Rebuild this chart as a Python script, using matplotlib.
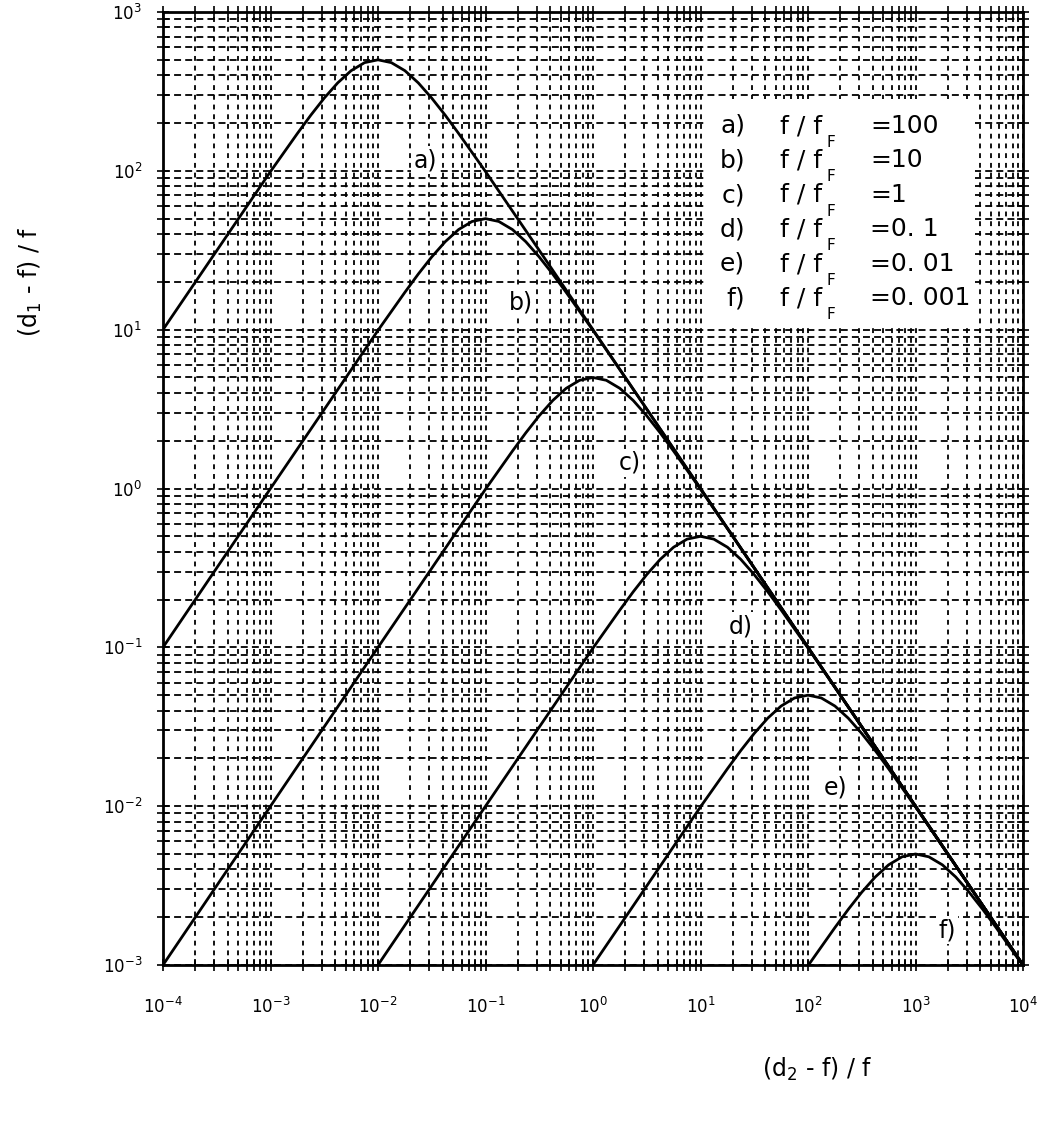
import matplotlib
matplotlib.use("Agg")
import matplotlib.pyplot as plt
from matplotlib.patches import Rectangle
from matplotlib.ticker import FixedLocator, LogFormatterSciNotation, NullFormatter

OUT_PATH = "out.png"
FIG_W, FIG_H = 1054, 1123

CURVE_NAMES = ["a)", "b)", "c)", "d)", "e)", "f)"]
RATIO_LABELS = ["=100", "=10", "=1", "=0. 1", "=0. 01", "=0. 001"]

X_DECADES = [1e-4, 1e-3, 1e-2, 1e-1, 1e0, 1e1, 1e2, 1e3, 1e4]
Y_DECADES = [1e-3, 1e-2, 1e-1, 1e0, 1e1, 1e2, 1e3]

# values, (d2-f)/f -> (d1-f)/f
A_X = [1e-4, 1e-3, 1.78e-3, 2.37e-3, 3.16e-3, 4.22e-3, 5.62e-3, 7.50e-3, 1e-2,
       1.33e-2, 1.78e-2, 2.37e-2, 3.16e-2, 4.22e-2, 5.62e-2, 0.1, 0.316, 1, 10, 100, 1000, 1e4]
A_Y = [10, 99, 172, 224, 287, 358, 427, 480, 500,
       480, 427, 358, 287, 224, 172, 99, 31.6, 10, 1.0, 0.1, 0.01, 0.001]

B_X = [1e-4, 1e-3, 1e-2, 1.78e-2, 2.37e-2, 3.16e-2, 4.22e-2, 5.62e-2, 7.50e-2, 0.1,
       0.133, 0.178, 0.237, 0.316, 0.422, 0.562, 1, 3.16, 10, 100, 1000, 1e4]
B_Y = [0.1, 1.0, 9.9, 17.2, 22.4, 28.7, 35.8, 42.7, 48.0, 50,
       48.0, 42.7, 35.8, 28.7, 22.4, 17.2, 9.9, 3.16, 1.0, 0.1, 0.01, 0.001]

C_X = [1e-4, 1e-3, 1e-2, 0.1, 0.178, 0.237, 0.316, 0.422, 0.562, 0.750, 1,
       1.33, 1.78, 2.37, 3.16, 4.22, 5.62, 10, 31.6, 100, 1000, 1e4]
C_Y = [0.001, 0.01, 0.1, 0.99, 1.72, 2.24, 2.87, 3.58, 4.27, 4.80, 5.0,
       4.80, 4.27, 3.58, 2.87, 2.24, 1.72, 0.99, 0.316, 0.1, 0.01, 0.001]

D_X = [1e-2, 0.1, 1, 1.78, 2.37, 3.16, 4.22, 5.62, 7.50, 10,
       13.3, 17.8, 23.7, 31.6, 42.2, 56.2, 100, 316, 1000, 1e4]
D_Y = [0.001, 0.01, 0.099, 0.172, 0.224, 0.287, 0.358, 0.427, 0.480, 0.5,
       0.480, 0.427, 0.358, 0.287, 0.224, 0.172, 0.099, 0.0316, 0.01, 0.001]

E_X = [1, 10, 17.8, 23.7, 31.6, 42.2, 56.2, 75.0, 100,
       133, 178, 237, 316, 422, 562, 1000, 3160, 1e4]
E_Y = [0.001, 0.0099, 0.0172, 0.0224, 0.0287, 0.0358, 0.0427, 0.0480, 0.05,
       0.0480, 0.0427, 0.0358, 0.0287, 0.0224, 0.0172, 0.0099, 0.00316, 0.001]

F_X = [100, 178, 237, 316, 422, 562, 750, 1000,
       1330, 1780, 2370, 3160, 4220, 5620, 1e4]
F_Y = [0.00099, 0.00172, 0.00224, 0.00287, 0.00358, 0.00427, 0.00480, 0.005,
       0.00480, 0.00427, 0.00358, 0.00287, 0.00224, 0.00172, 0.00099]


def px(x, y):
    """Pixel position (from top-left) -> figure fraction."""
    return x / FIG_W, 1 - y / FIG_H


def minor_ticks(decades):
    # 2..9 inside each decade shown on the axis
    return [d * k for d in decades[:-1] for k in range(2, 10)]


def setup_axes(fig):
    ax = fig.add_axes([163 / FIG_W, 1 - 965 / FIG_H, (1023 - 163) / FIG_W, (965 - 12) / FIG_H])
    ax.set_xscale("log")
    ax.set_yscale("log")
    ax.set_xlim(X_DECADES[0], X_DECADES[-1])
    ax.set_ylim(Y_DECADES[0], Y_DECADES[-1])

    for axis, decades in ((ax.xaxis, X_DECADES), (ax.yaxis, Y_DECADES)):
        axis.set_major_locator(FixedLocator(decades))
        axis.set_major_formatter(LogFormatterSciNotation())
        axis.set_minor_locator(FixedLocator(minor_ticks(decades)))
        axis.set_minor_formatter(NullFormatter())

    ax.tick_params(which="both", direction="inout", length=8, width=1.2,
                   top=True, right=True, labelsize=12)
    ax.tick_params(axis="x", pad=19)
    ax.tick_params(axis="y", pad=11)
    for spine in ax.spines.values():
        spine.set_linewidth(2.0)

    ax.set_axisbelow(True)
    ax.xaxis.grid(True, which="both", color="black", linewidth=1.3, linestyle=(0, (3.5, 3.5)))
    ax.yaxis.grid(True, which="both", color="black", linewidth=1.3, linestyle=(0, (5, 3)))
    return ax


def draw_legend(fig, ax):
    ax.add_patch(Rectangle((0.630, 0.6705), 0.314, 0.238, transform=ax.transAxes,
                           facecolor="white", edgecolor="none", zorder=1))
    for i, (name, ratio) in enumerate(zip(CURVE_NAMES, RATIO_LABELS)):
        base = 133 + 34.5 * i
        fig.text(*px(745, base), name, ha="right", va="baseline", fontsize=18)
        fig.text(*px(780, base), "f / f", ha="left", va="baseline", fontsize=18)
        fig.text(*px(826, base + 14), "F", ha="left", va="baseline", fontsize=11)
        fig.text(*px(870, base), ratio, ha="left", va="baseline", fontsize=18)


def main():
    plt.rcParams["font.family"] = "DejaVu Sans"
    plt.rcParams["lines.scale_dashes"] = False

    fig = plt.figure(figsize=(FIG_W / 100, FIG_H / 100), dpi=100)
    ax = setup_axes(fig)

    curves = [(A_X, A_Y), (B_X, B_Y), (C_X, C_Y), (D_X, D_Y), (E_X, E_Y), (F_X, F_Y)]
    for x, y in curves:
        ax.plot(x, y, color="black", linewidth=2.0, solid_joinstyle="round", zorder=3)

    # curve tags, each on a small white patch like the original
    label_pos = [(0.0274, 117), (0.214, 14.9), (2.21, 1.45),
                 (23.8, 0.136), (182, 0.0132), (1963, 0.00166)]
    for name, (lx, ly) in zip(CURVE_NAMES, label_pos):
        ax.text(lx, ly, name, ha="center", va="center", fontsize=17, zorder=4,
                bbox=dict(facecolor="white", edgecolor="none", pad=1.5))

    draw_legend(fig, ax)

    fig.text(*px(30, 282), "(d$_{1}$ - f) / f", rotation=90, ha="center", va="center", fontsize=17)
    fig.text(*px(817, 1077), "(d$_{2}$ - f) / f", ha="center", va="baseline", fontsize=17)

    fig.savefig(OUT_PATH, dpi=100)
    plt.close(fig)


if __name__ == "__main__":
    main()
